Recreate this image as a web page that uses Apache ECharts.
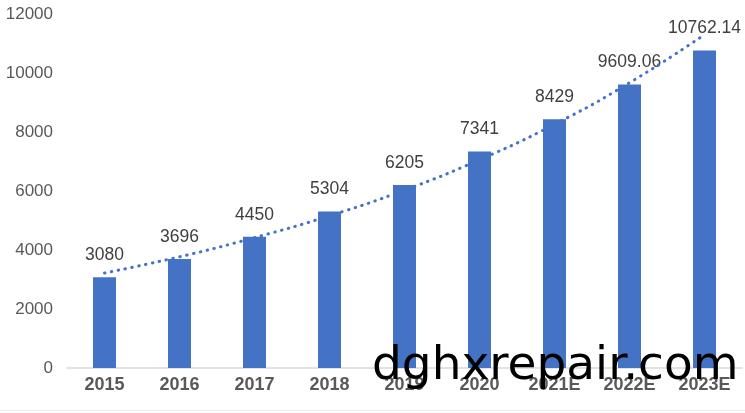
<!DOCTYPE html>
<html>
<head>
<meta charset="utf-8">
<script src="https://cdn.jsdelivr.net/npm/echarts@6/dist/echarts.min.js"></script>
<style>
html,body{margin:0;padding:0;background:#fff;}
#c{width:745px;height:413px;}
</style>
</head>
<body>
<div id="c"></div>
<script>
var categories = ['2015','2016','2017','2018','2019','2020','2021E','2022E','2023E'];
var values = [3080, 3696, 4450, 5304, 6205, 7341, 8429, 9609.06, 10762.14];
var trendValues = [3220, 3770, 4420, 5160, 6030, 7060, 8260, 9670, 11300];
var yTicks = [0, 2000, 4000, 6000, 8000, 10000, 12000];

var chart = echarts.init(document.getElementById('c'));
chart.setOption({
  animation: false,
  backgroundColor: '#ffffff',
  grid: {left: 67, right: 3, top: 14, bottom: 45, containLabel: false},
  xAxis: {
    type: 'category',
    data: categories,
    axisLine: {show: true, lineStyle: {color: '#d9d9d9', width: 1.5}},
    axisTick: {show: false},
    axisLabel: {color: '#595959', fontSize: 18, fontWeight: 'bold', fontFamily: 'Liberation Sans, Arial, sans-serif', margin: 8}
  },
  yAxis: {
    type: 'value',
    min: yTicks[0],
    max: yTicks[yTicks.length - 1],
    interval: 2000,
    axisLine: {show: false},
    axisTick: {show: false},
    splitLine: {show: false},
    axisLabel: {color: '#595959', fontSize: 17, fontFamily: 'Liberation Sans, Arial, sans-serif', margin: 14,
      formatter: function (v) { return String(v); }}
  },
  series: [
    {
      type: 'bar',
      data: values,
      barWidth: 23,
      itemStyle: {color: '#4472C4'},
      label: {
        show: true,
        position: 'top',
        distance: 13,
        color: '#404040',
        fontSize: 17.5,
        fontFamily: 'Liberation Sans, Arial, sans-serif'
      },
      z: 2
    },
    {
      type: 'line',
      data: trendValues,
      smooth: true,
      symbol: 'none',
      lineStyle: {color: '#4472C4', width: 3, type: [0.5, 6.5], cap: 'round'},
      z: 3
    }
  ],
  graphic: [
    {
      type: 'line',
      shape: {x1: 0, y1: 410.5, x2: 745, y2: 410.5},
      style: {stroke: '#eeeeee', lineWidth: 1},
      z: 1
    },
    {
      type: 'text',
      left: 372,
      top: 343,
      z: 100,
      style: {
        text: 'dghxrepair.com',
        fontSize: 47,
        fontFamily: 'DejaVu Sans, sans-serif',
        fill: '#000000'
      }
    }
  ]
});
</script>
</body>
</html>
